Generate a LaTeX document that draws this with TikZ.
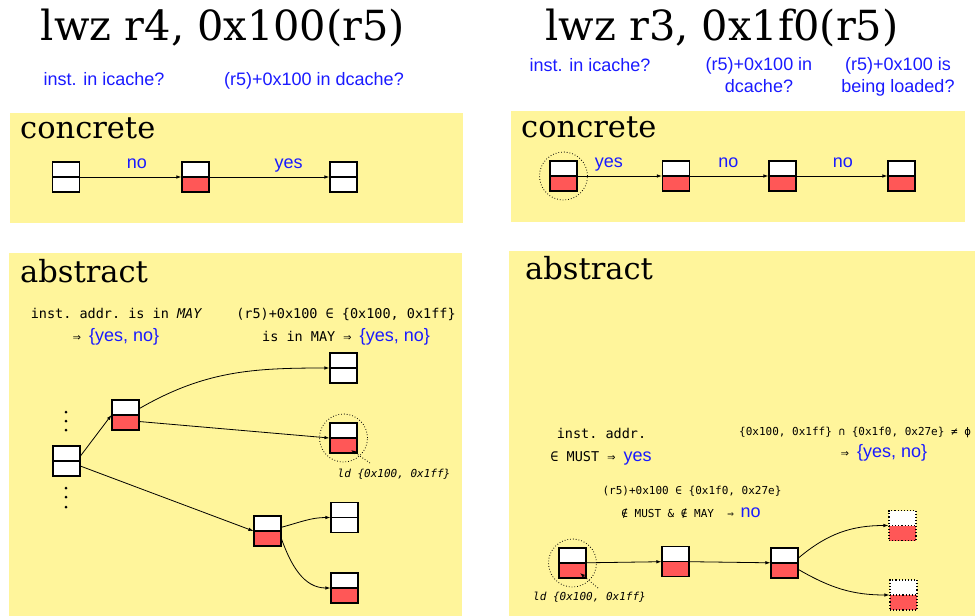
\documentclass[tikz,border=0pt]{standalone}
\usepackage{fontspec}
\setmainfont{DejaVu Serif}
\setsansfont{Liberation Sans}
\setmonofont{DejaVu Sans Mono}
\usetikzlibrary{arrows.meta}
\definecolor{Pad}{HTML}{FFF59B}
\definecolor{Miss}{HTML}{FF5757}
\definecolor{Ask}{HTML}{1A1AFF}
\newcommand\yn[1]{{\sffamily\fontsize{18}{22}\selectfont\color{Ask}#1}}
\tikzset{cline/.style={draw,line width=1.1pt,fill=white,minimum width=27pt,
  minimum height=30pt,inner sep=0pt,path picture={\draw[line width=1.1pt]
  (path picture bounding box.west)--(path picture bounding box.east);}},
  cmiss/.style={cline,path picture={\fill[Miss] (path picture bounding box.west)
  rectangle (path picture bounding box.south east);\draw[line width=1.1pt]
  (path picture bounding box.west)--(path picture bounding box.east);}},
  cguess/.style={cmiss,dotted},
  ring/.style={circle,draw,dotted,line width=.8pt,minimum size=48pt,inner sep=0pt},
  link/.style={-{Latex[length=5pt,width=3.5pt]},line width=.8pt},
  pin/.style={-{Latex[length=5pt,width=3.5pt]},dotted,line width=.8pt},
  ask/.style={text=Ask,font=\sffamily\fontsize{18}{22}\selectfont,inner sep=0pt},
  lab/.style={ask,anchor=base,yshift=9pt},
  head/.style={font=\fontsize{41.5}{48}\selectfont,anchor=base,inner sep=0pt},
  tag/.style={font=\fontsize{30.5}{36}\selectfont,anchor=base west,inner sep=0pt},
  code/.style={font=\ttfamily\fontsize{13.5}{16}\selectfont,anchor=base,inner sep=0pt},
  small/.style={font=\ttfamily\fontsize{11}{13}\selectfont,anchor=base,inner sep=0pt},
  note/.style={font=\ttfamily\itshape\fontsize{11}{13}\selectfont,anchor=base,inner sep=0pt}}
\begin{document}
\begin{tikzpicture}[x=1pt,y=-1pt]
\useasboundingbox (0,0) rectangle (975,616);
\fill[Pad] (10,113) rectangle (463,223);
\fill[Pad] (511,111) rectangle (965,222);
\fill[Pad] (9,253) rectangle (462,616);
\fill[Pad] (509,251) rectangle (975,616);
\node[head] (t1) at (223,40) {lwz r4, 0x100(r5)};
\node[head] (t2) at (722,40) {lwz r3, 0x1f0(r5)};
\node[ask,anchor=base] (q1) at (104,85) {inst. in icache?};
\node[ask,anchor=base] (q2) at (314,85) {(r5)+0x100 in dcache?};
\node[ask,anchor=base] (q3) at (590,71) {inst. in icache?};
\node[ask,align=center,anchor=north] (q4) at (759,57) {(r5)+0x100 in\\dcache?};
\node[ask,align=center,anchor=north] (q5) at (898,57) {(r5)+0x100 is\\being loaded?};
\node[tag] (g1) at (20,138) {concrete};
\node[tag] (g2) at (521,137) {concrete};
\node[tag] (g3) at (20,282) {abstract};
\node[tag] (g4) at (525,279) {abstract};
\node[cline] (c1) at (66,177) {};
\node[cmiss] (c2) at (195.5,177) {};
\node[cline] (c3) at (343.5,177) {};
\draw[link] (c1)--(c2) node[lab,pos=.56]{no};
\draw[link] (c2)--(c3) node[lab,pos=.66]{yes};
\node[cmiss] (k1) at (563.5,176) {};
\node[cmiss] (k2) at (676,176) {};
\node[cmiss] (k3) at (782.5,176) {};
\node[cmiss] (k4) at (901.5,176) {};
\node[ring] (o1) at (k1) {};
\draw[link] (k1)--(k2) node[lab,pos=.37]{yes};
\draw[link] (k2)--(k3) node[lab,pos=.49]{no};
\draw[link] (k3)--(k4) node[lab,pos=.51]{no};
\node[code] (m1) at (116.5,318) {inst. addr. is in \textit{MAY}};
\node[code] (m2) at (116,341) {⇒ \yn{\{yes, no\}}};
\node[code] (m3) at (346,318) {(r5)+0x100 ∈ \{0x100, 0x1ff\}};
\node[code] (m4) at (346,341) {is in MAY ⇒ \yn{\{yes, no\}}};
\node[cline] (aR) at (66.5,461) {};
\node[cmiss] (aA) at (125.5,415) {};
\node[cline] (aT1) at (343.5,368) {};
\node[cmiss] (aT2) at (343.5,438) {};
\node[cmiss] (aB) at (267.5,531) {};
\node[cline] (aT3) at (344.5,517.5) {};
\node[cmiss] (aT4) at (344.5,588) {};
\node[ring] (o2) at (aT2) {};
\foreach \y in {412,421,430,488,497,507} \fill (66,\y) circle (1.5pt);
\draw[link] (aR.20)--(aA.west);
\draw[link] (aR.-20)--(aB.west);
\draw[link] (aA.25) to[out=30,in=180] (aT1.west);
\draw[link] (aA.-25)--(aT2.west);
\draw[link] (aB.15) to[out=15,in=180] (aT3.west);
\draw[link] (aB.-30) to[out=-70,in=180] (aT4.west);
\node[note] (n1) at (394,477) {ld \{0x100, 0x1ff\}};
\coordinate (p1) at (370,463);
\coordinate (h1) at (351,450);
\draw[pin] (p1)--(h1);
\node[code] (m5) at (601.5,438) {inst. addr.};
\node[code] (m6) at (601,461) {∈ MUST ⇒ \yn{yes}};
\node[small,anchor=base west] (m7) at (739,435) {\{0x100, 0x1ff\} ∩ \{0x1f0, 0x27e\} ≠ ϕ};
\node[code] (m8) at (884,457) {⇒ \yn{\{yes, no\}}};
\node[small] (m9) at (692,494) {(r5)+0x100 ∈ \{0x1f0, 0x27e\}};
\node[small] (m10) at (691,517) {∉ MUST \& ∉ MAY \ ⇒ \yn{no}};
\node[cmiss] (b1) at (572.5,563) {};
\node[cmiss] (b2) at (675.5,561.5) {};
\node[cmiss] (b3) at (784.5,563) {};
\node[cguess] (b4) at (902.5,525.5) {};
\node[cguess] (b5) at (903.5,595) {};
\node[ring] (o3) at (b1) {};
\draw[link] (b1)--(b2);
\draw[link] (b2)--(b3);
\draw[link] (b3.20) to[out=40,in=180] (b4.west);
\draw[link] (b3.-25) to[out=-30,in=180] (b5.west);
\node[note] (n2) at (589.5,600) {ld \{0x100, 0x1ff\}};
\coordinate (p2) at (598,588);
\coordinate (h2) at (580,573);
\draw[pin] (p2)--(h2);
\end{tikzpicture}
\end{document}
